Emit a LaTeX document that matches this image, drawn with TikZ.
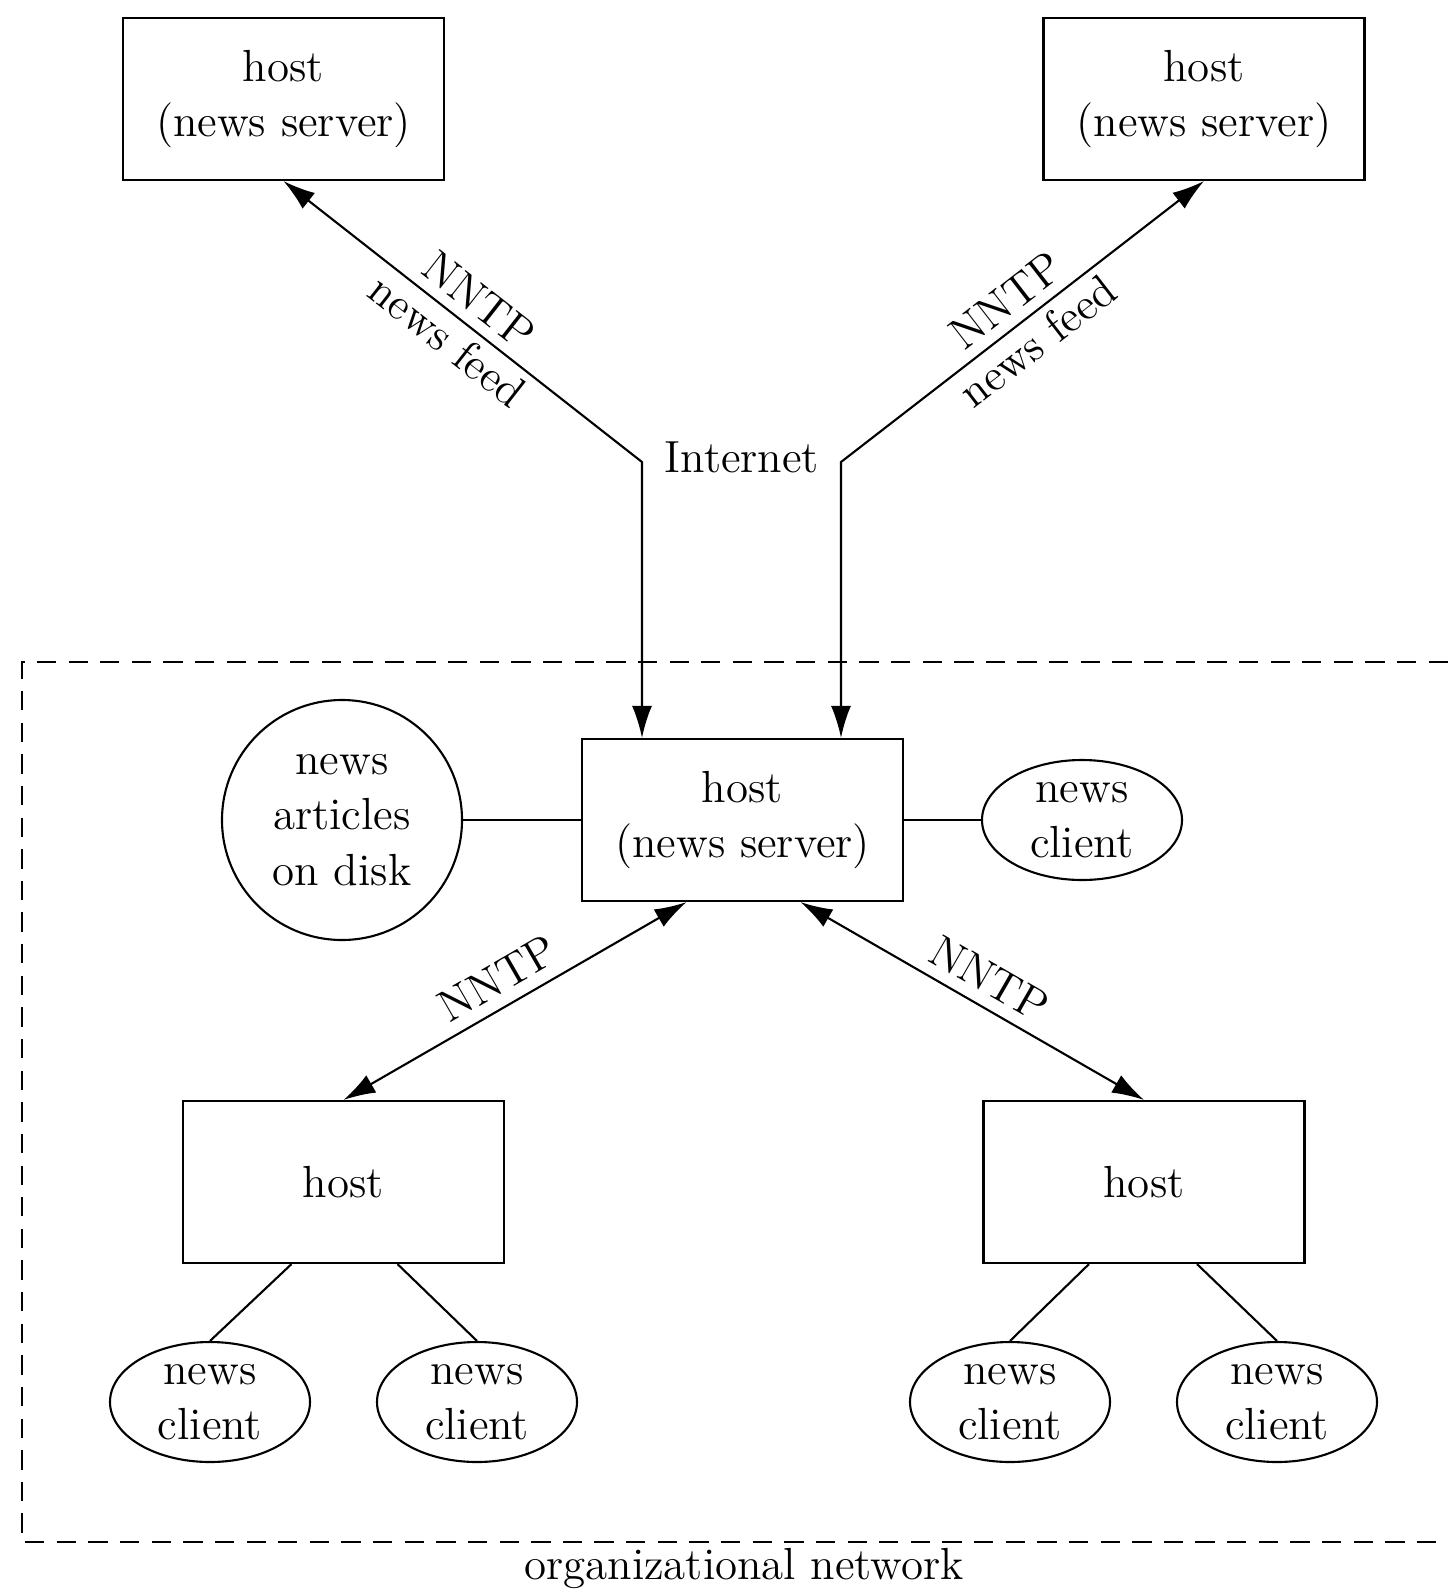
\documentclass[tikz,border=0pt]{standalone}
\usetikzlibrary{arrows.meta,calc,positioning,shapes.geometric}

\begin{document}
\begin{tikzpicture}[font=\fontsize{12.8}{15.8}\selectfont, line width=0.6pt,
  hostbox/.style={draw, minimum width=3.21cm, minimum height=1.62cm, align=center, inner sep=2pt},
  clientnode/.style={draw, ellipse, minimum width=2cm, minimum height=1.2cm, inner sep=0pt},
  feedtip/.style={{Latex[length=3.2mm,width=2mm]}-{Latex[length=3.2mm,width=2mm]}},
  netbox/.style={dashed, dash pattern=on 5.5pt off 3.5pt}]
  \useasboundingbox (0,0) rectangle (14.48,-15.93);

  \node[hostbox] (tl) at (2.835,-0.99) {host\\(news server)};
  \node[hostbox] (tr) at (12.04,-0.99) {host\\(news server)};
  \node[hostbox] (srv) at (7.425,-8.20) {host\\(news server)};
  \node[hostbox] (hl) at (3.435,-11.82) {host};
  \node[hostbox] (hr) at (11.44,-11.82) {host};

  \node[draw, circle, minimum size=2.4cm, inner sep=0pt, align=center] (disk) at (3.42,-8.20)
    {news\\articles\\on disk};
  \node[clientnode] (cl0) at (10.82,-8.20) {};
  \node[align=center] (cl0txt) at (cl0) {news\\client};
  \node[clientnode] (cl1) at (2.10,-14.02) {};
  \node[align=center] (cl1txt) at (cl1) {news\\client};
  \node[clientnode] (cl2) at (4.77,-14.02) {};
  \node[align=center] (cl2txt) at (cl2) {news\\client};
  \node[clientnode] (cl3) at (10.10,-14.02) {};
  \node[align=center] (cl3txt) at (cl3) {news\\client};
  \node[clientnode] (cl4) at (12.77,-14.02) {};
  \node[align=center] (cl4txt) at (cl4) {news\\client};

  \node (inet) at (7.42,-4.57) {Internet};
  \coordinate (bendl) at (6.42,-4.62);
  \coordinate (bendr) at (8.41,-4.62);

  \draw[feedtip] (tl.south) -- node[sloped, above, inner sep=3pt] {NNTP} node[sloped, below, inner sep=2pt] {news feed}
    (bendl) -- (bendl |- srv.north);
  \draw[feedtip] (bendr |- srv.north) -- (bendr) -- node[sloped, above, inner sep=3pt] {NNTP}
    node[sloped, below, inner sep=2pt] {news feed} (tr.south);

  \draw (disk) -- (srv);
  \draw (srv) -- (cl0);

  \draw[feedtip] (hl.north) -- node[sloped, above, pos=0.49] {NNTP} ($(srv.south)+(-0.56,0)$);
  \draw[feedtip] ($(srv.south)+(0.58,0)$) -- node[sloped, above, pos=0.51] {NNTP} (hr.north);

  \draw ($(hl.south)+(-0.52,0)$) -- (cl1.north);
  \draw ($(hl.south)+(0.54,0)$) -- (cl2.north);
  \draw ($(hr.south)+(-0.55,0)$) -- (cl3.north);
  \draw ($(hr.south)+(0.53,0)$) -- (cl4.north);

  \draw[netbox] (14.48,-6.62) -- (0.22,-6.62) -- (0.22,-15.42) -- (14.48,-15.42);
  \node (orgnet) at (7.44,-15.68) {organizational network};
\end{tikzpicture}
\end{document}
